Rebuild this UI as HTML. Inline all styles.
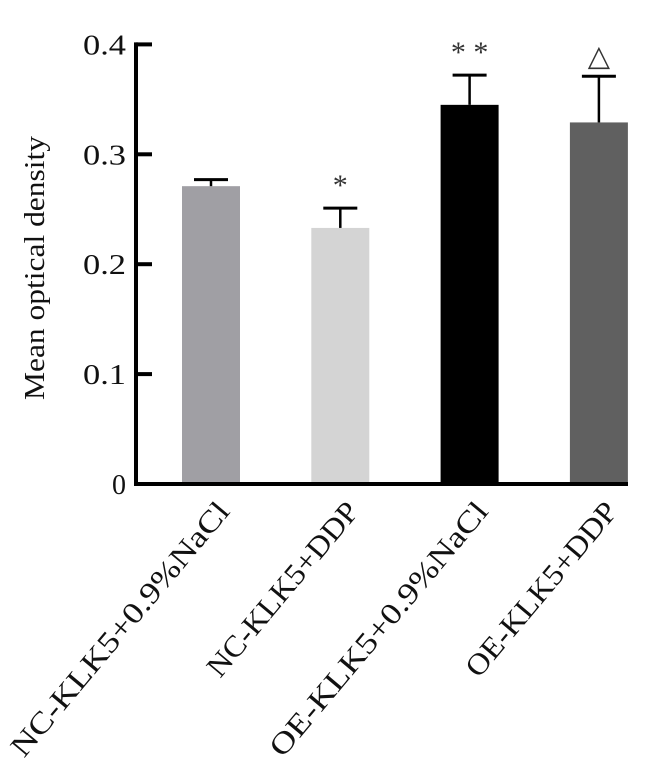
<!DOCTYPE html>
<html><head><meta charset="utf-8"><style>
html,body{margin:0;padding:0;background:#fff;}
svg{display:block;font-family:"Liberation Serif",serif;}
</style></head><body>
<svg id="chart" width="648" height="765" viewBox="0 0 648 765" xmlns="http://www.w3.org/2000/svg">
<g id="bars"></g>
<g id="axes"></g>
<g id="labels"></g>
</svg>
<script>
const categories = ["NC-KLK5+0.9%NaCl","NC-KLK5+DDP","OE-KLK5+0.9%NaCl","OE-KLK5+DDP"];
const means = [0.271, 0.233, 0.345, 0.329];
const errors = [0.006, 0.018, 0.027, 0.042];
const marks = ["", "*", "* *", "\u25B3"];
const colors = ["#a09fa4", "#d4d4d4", "#000000", "#606060"];
const yTicks = [0, 0.1, 0.2, 0.3, 0.4];
const yTickLabels = ["0", "0.1", "0.2", "0.3", "0.4"];

const NS = "http://www.w3.org/2000/svg";
const y0 = 484, yPer = 1099;
function yScale(v){ return y0 - v*yPer; }
function xCenter(i){ return 211 + i*129.3; }
const barW = 58;
function mk(tag, attrs, parent){ const e=document.createElementNS(NS,tag); for(const k in attrs) e.setAttribute(k,attrs[k]); parent.appendChild(e); return e; }
const gb=document.getElementById("bars"), ga=document.getElementById("axes"), gl=document.getElementById("labels");

categories.forEach((c,i)=>{
  const cx=xCenter(i), top=yScale(means[i]), et=yScale(means[i]+errors[i]);
  const r=mk("rect",{x:cx-barW/2,y:top,width:barW,height:y0-top,fill:colors[i]},gb);
  
  
  const l=mk("line",{x1:cx,x2:cx,y1:top,y2:et,stroke:"#000","stroke-width":2.5},gb);
  
  
  const cap=mk("line",{x1:cx-17,x2:cx+17,y1:et,y2:et,stroke:"#000","stroke-width":3},gb);
  
  
  if(marks[i]){
    const tri = marks[i]==="\u25B3";
    const t=mk("text",{x:cx,y:et-(tri?11:13),"text-anchor":"middle","font-size":tri?29:30,fill:"#333"},gl);
    t.textContent=marks[i];
    
    
  }
  const lx=cx+20, ly=512;
  const len = c.length>12 ? 322 : 218;
  const tl=mk("text",{x:lx,y:ly,"text-anchor":"end","font-size":30,textLength:len,lengthAdjust:"spacingAndGlyphs",fill:"#111",transform:`rotate(-50 ${lx} ${ly})`},gl);
  tl.textContent=c;
  
  
});

const ya=mk("line",{x1:136,x2:136,y1:yScale(0.4)-2,y2:y0+2,stroke:"#000","stroke-width":4},ga);


const xa=mk("line",{x1:134,x2:628,y1:y0,y2:y0,stroke:"#000","stroke-width":4},ga);


yTicks.forEach((v,i)=>{
  const y=yScale(v);
  const tk=mk("line",{x1:136,x2:152,y1:y,y2:y,stroke:"#000","stroke-width":4},ga);
  
  
  const t=mk("text",{x:126,y:y+10,"text-anchor":"end","font-size":28,fill:"#111"},ga);
  if(i>0){ t.setAttribute('textLength',43); t.setAttribute('lengthAdjust','spacingAndGlyphs'); }
  t.textContent=yTickLabels[i];
  
  
});
const yt=mk("text",{x:44,y:268,"text-anchor":"middle","font-size":28,textLength:264,lengthAdjust:"spacingAndGlyphs",fill:"#111",transform:"rotate(-90 44 268)"},ga);
yt.textContent="Mean optical density";


</script>
</body></html>
